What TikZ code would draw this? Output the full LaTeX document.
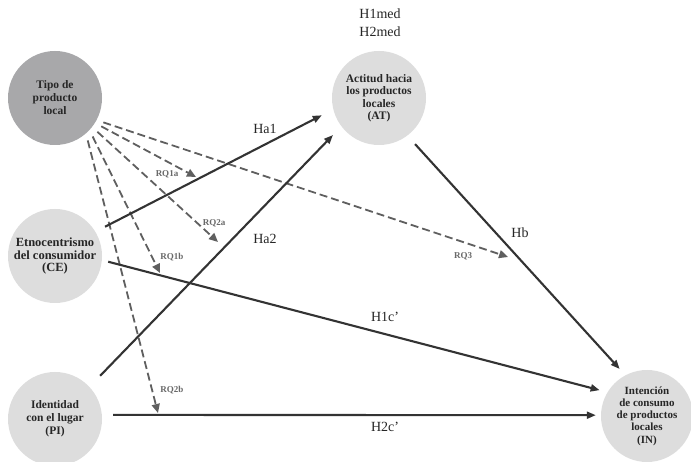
\documentclass[tikz,border=0pt]{standalone}
\usepackage{fontspec}
\setmainfont{Liberation Serif}
\usetikzlibrary{arrows.meta}
\definecolor{darkcirc}{RGB}{168,168,170}
\definecolor{lightcirc}{RGB}{221,221,221}
\definecolor{solidline}{RGB}{51,51,51}
\definecolor{dashline}{RGB}{95,95,95}
\definecolor{rqtext}{RGB}{105,105,105}
\begin{document}
\begin{tikzpicture}[x=1pt,y=-1pt,
  circ/.style={circle, minimum size=94pt, inner sep=0pt, align=center, fill=lightcirc, text=black!85},
  hyp/.style={draw=solidline, line width=2.1pt, -{Triangle[length=9pt,width=7pt]}},
  rqarrow/.style={draw=dashline, line width=1.8pt, dash pattern=on 8pt off 4pt, -{Triangle[length=9pt,width=8pt]}, shorten <=7pt},
  hlabel/.style={font=\fontsize{14}{16}\selectfont, text=black!85},
  rqlabel/.style={font=\bfseries\fontsize{9}{10}\selectfont, text=rqtext}
]
\useasboundingbox (0,0) rectangle (691,462);
\fill[white] (0,0) rectangle (691,462);

% nodes
\node[circ, fill=darkcirc, font=\bfseries\fontsize{11.5}{13}\selectfont] (tp) at (55,98) {Tipo de\\producto\\local};
\node[circ, font=\bfseries\fontsize{11.5}{12.5}\selectfont] (at) at (379,98) {Actitud hacia\\los productos\\locales\\(AT)};
\node[circ, font=\bfseries\fontsize{12.5}{12.5}\selectfont] (ce) at (55,256) {Etnocentrismo\\del consumidor\\(CE)};
\node[circ, font=\bfseries\fontsize{11.5}{13}\selectfont] (pi) at (55,419) {Identidad\\con el lugar\\(PI)};
\node[circ, minimum size=92pt, font=\bfseries\fontsize{11}{12.3}\selectfont] (in) at (647,416) {Intención\\de consumo\\de productos\\locales\\(IN)};

% top text
\node[hlabel, align=center, font=\fontsize{14}{18}\selectfont] (med) at (380,23) {H1med\\H2med};

% free ends of the dashed connectors
\coordinate (rq1aend) at (196,177);
\coordinate (rq2aend) at (218,242);
\coordinate (rq1bend) at (160,273);
\coordinate (rq3end) at (508,257);
\coordinate (rq2bend) at (158,413);

% dashed connectors
\draw[rqarrow] (tp.-28) -- (rq3end);
\draw[rqarrow] (tp.-32) -- (rq1aend);
\draw[rqarrow] (tp.-38) -- (rq2aend);
\draw[rqarrow] (tp.-43) -- (rq1bend);
\draw[rqarrow] (tp.-49) -- (rq2bend);

% solid connectors
\draw[hyp, shorten <=10.8pt, shorten >=12.8pt] (ce.31) -- (at.194);
\draw[hyp, shorten <=15.3pt, shorten >=12pt] (pi.43) -- (at.217);
\draw[hyp, shorten <=11.4pt, shorten >=8.4pt] (at.-53) -- (in.118);
\draw[hyp, shorten <=6.4pt, shorten >=8pt] (ce.-5) -- (in.149);
\draw[hyp, shorten <=11.2pt, shorten >=5pt] (pi.5) -- (in.179);

% labels
\node[hlabel] (lha1) at (265,129) {Ha1};
\node[hlabel] (lha2) at (265,239) {Ha2};
\node[hlabel] (lhb) at (520,233) {Hb};
\node[hlabel] (lh1c) at (385,317) {H1c’};
\node[hlabel] (lh2c) at (385,427) {H2c’};

\node[rqlabel] (lrq1a) at (167,174) {RQ1a};
\node[rqlabel] (lrq2a) at (214,223) {RQ2a};
\node[rqlabel] (lrq1b) at (172,257) {RQ1b};
\node[rqlabel] (lrq3) at (463,256) {RQ3};
\node[rqlabel] (lrq2b) at (172,390) {RQ2b};
\end{tikzpicture}
\end{document}
